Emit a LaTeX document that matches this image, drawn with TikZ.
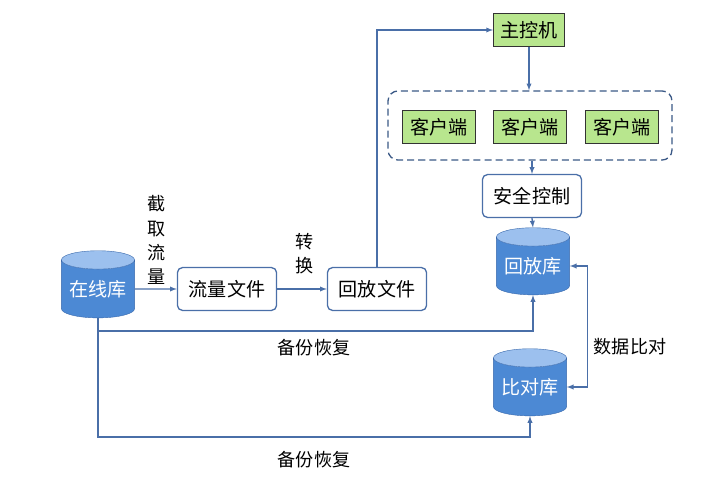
\documentclass[tikz,border=0pt]{standalone}
\usepackage{fontspec}
\setmainfont{Noto Sans CJK SC}
\usetikzlibrary{shapes.geometric,fit}

\definecolor{lineBlue}{HTML}{4A6FA8}
\definecolor{dbBody}{HTML}{4C89D4}
\definecolor{dbTop}{HTML}{9CC0EE}
\definecolor{dbEdge}{HTML}{3A69AC}
\definecolor{boxGreen}{HTML}{B8E68E}

\tikzset{
  db/.style={cylinder, shape border rotate=90, aspect=0.32, draw=dbEdge,
    cylinder uses custom fill, cylinder body fill=dbBody, cylinder end fill=dbTop,
    minimum width=2.56cm, minimum height=2.35cm, text=white, inner sep=0pt},
  filebox/.style={draw=lineBlue, line width=1.3pt, rounded corners=5pt, fill=white,
    minimum width=3.47cm, minimum height=1.5cm},
  greenbox/.style={draw=black!80, fill=boxGreen, line width=0.8pt,
    minimum width=2.55cm, minimum height=1.16cm},
  flow/.style={lineBlue, line width=1.3pt, ->},
  lbl/.style={align=center, font=\fontsize{18}{24}\selectfont}
}

\begin{document}
\begin{tikzpicture}[x=0.035cm, y=-0.035cm, >=latex, font=\fontsize{19}{22}\selectfont]

  \useasboundingbox (0,0) rectangle (720,497);

  % databases
  \node[db] (online)  at (98,289)  {在线库};
  \node[db] (replay)  at (533,266) {回放库};
  \node[db] (compare) at (530,387) {比对库};

  % files
  \node[filebox] (traffic)    at (227,289) {流量文件};
  \node[filebox] (replayfile) at (377,289) {回放文件};

  % master and clients
  \node[greenbox, minimum width=2.49cm] (master) at (529,30) {主控机};
  \node[greenbox] (client1) at (439,127) {客户端};
  \node[greenbox] (client2) at (530,127) {客户端};
  \node[greenbox] (client3) at (622,127) {客户端};
  \node[draw=lineBlue!80!black, dash pattern=on 7pt off 4pt, line width=1.3pt,
        rounded corners=10pt, minimum width=9.94cm, minimum height=2.42cm]
        (clients) at (530,125.5) {};

  \node[filebox] (security) at (532,196) {安全控制};

  % flow
  \draw[flow] (online) -- (traffic);
  \draw[flow] (traffic) -- (replayfile);
  \draw[flow] (replayfile.north) |- (master.west);
  \draw[flow] (master.south) -- (master.south |- clients.north);
  \draw[flow] (security.north |- clients.south) -- (security.north);
  \draw[flow] (security.south) -- (replay.top);

  % backups
  \coordinate (turn1) at (98,331);
  \coordinate (turn2) at (98,437);
  \draw[flow] (online.bottom) -- (turn1) -| (replay.bottom);
  \draw[flow] (online.bottom) -- (turn2) -| (compare.bottom);

  % compare
  \draw[flow, <->] (replay.east) -- ++(18,0) |- (compare.east);

  % labels
  \node[lbl] (cut)  at (157,240) {截\\取\\流\\量};
  \node[lbl] (conv) at (305,254) {转\\换};
  \node[lbl] (bak1) at (314,348) {备份恢复};
  \node[lbl] (bak2) at (314,460) {备份恢复};
  \node[lbl] (diff) at (630,347) {数据比对};

\end{tikzpicture}
\end{document}
